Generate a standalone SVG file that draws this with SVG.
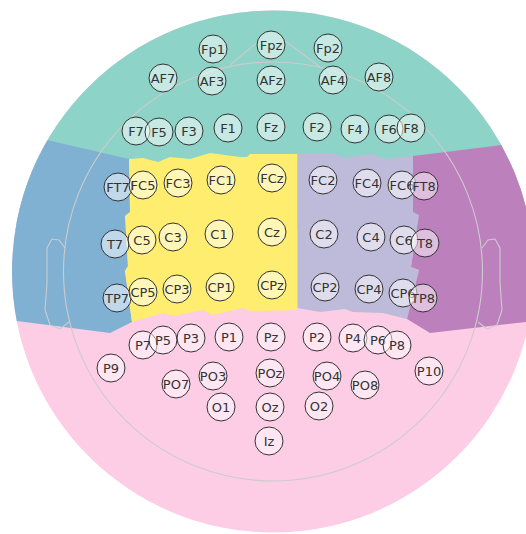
<svg xmlns="http://www.w3.org/2000/svg" width="526" height="534" viewBox="0 0 526 534">
<style>
.n circle{fill:#ffffff;fill-opacity:.5;stroke:#333;stroke-width:1}
.n text{font-family:"DejaVu Sans",sans-serif;font-size:13px;fill:#333;text-anchor:middle;dominant-baseline:central}
.head{fill:none;stroke:#cccccc;stroke-width:1.1}
</style>
<defs>
<clipPath id="clip"><circle cx="273" cy="271.5" r="261"/></clipPath>
</defs>
<rect width="526" height="534" fill="#ffffff"/>
<g id="regions" clip-path="url(#clip)">
<rect x="0" y="0" width="526" height="534" fill="#fccde5"/>
<polygon fill="#8dd3c7" points="0,0 526,0 526,230 0,230"/>
<polygon fill="#80b1d3" points="0,128 47,140 129,159 130,212 125,216 128,266 125,271 132,322 110,333 17,321 0,320"/>
<polygon fill="#ffed6f" points="129,159 143,158 158,162 170,157 190,159 210,153 240,157 247,157 250,154 297.5,154 297.5,310 250,311 243,308 212,315 203,310 173,316 163,313 132,322 125,271 128,266 125,216 130,212"/>
<polygon fill="#bebada" points="297.5,153 333,153 345,158 370,154 387,159 413,156 413,212 419,215 411,267 419,270 407,319 383,313 353,312 345,309 320,312 297.5,308"/>
<polygon fill="#bc80bd" points="413,156 502,145 526,140 526,322 430,333 407,319 419,270 411,267 419,215 413,212"/>
</g>
<g id="outline">
<circle class="head" cx="273" cy="271.5" r="209.5"/>
<polyline class="head" points="230,65 259,41"/>
<polyline class="head" points="284,40 320,67"/>
<polyline class="head" points="65,248 59,240 52,239 47,248 47,283 45,310 50,325 60,329 69,322"/>
<polyline class="head" points="482,248 488,240 495,239 500,248 500,283 502,310 497,325 487,329 478,322"/>
</g>
<g id="nodes">
<g class="n" id="Fp1"><circle cx="213" cy="49" r="14"/><text x="213" y="49">Fp1</text></g>
<g class="n" id="Fpz"><circle cx="271" cy="45" r="14"/><text x="271" y="45">Fpz</text></g>
<g class="n" id="Fp2"><circle cx="328" cy="48" r="14"/><text x="328" y="48">Fp2</text></g>
<g class="n" id="AF7"><circle cx="163" cy="78" r="14"/><text x="163" y="78">AF7</text></g>
<g class="n" id="AF3"><circle cx="212" cy="81" r="14"/><text x="212" y="81">AF3</text></g>
<g class="n" id="AFz"><circle cx="271" cy="80" r="14"/><text x="271" y="80">AFz</text></g>
<g class="n" id="AF4"><circle cx="333" cy="80" r="14"/><text x="333" y="80">AF4</text></g>
<g class="n" id="AF8"><circle cx="379" cy="77" r="14"/><text x="379" y="77">AF8</text></g>
<g class="n" id="F7"><circle cx="136" cy="131" r="14"/><text x="136" y="131">F7</text></g>
<g class="n" id="F5"><circle cx="159" cy="132" r="14"/><text x="159" y="132">F5</text></g>
<g class="n" id="F3"><circle cx="189" cy="131" r="14"/><text x="189" y="131">F3</text></g>
<g class="n" id="F1"><circle cx="228" cy="128" r="14"/><text x="228" y="128">F1</text></g>
<g class="n" id="Fz"><circle cx="271" cy="127" r="14"/><text x="271" y="127">Fz</text></g>
<g class="n" id="F2"><circle cx="317" cy="127" r="14"/><text x="317" y="127">F2</text></g>
<g class="n" id="F4"><circle cx="355" cy="129" r="14"/><text x="355" y="129">F4</text></g>
<g class="n" id="F6"><circle cx="389" cy="129" r="14"/><text x="389" y="129">F6</text></g>
<g class="n" id="F8"><circle cx="411" cy="128" r="14"/><text x="411" y="128">F8</text></g>
<g class="n" id="FT7"><circle cx="118" cy="187" r="14"/><text x="118" y="187">FT7</text></g>
<g class="n" id="T7"><circle cx="115" cy="244" r="14"/><text x="115" y="244">T7</text></g>
<g class="n" id="TP7"><circle cx="117" cy="298" r="14"/><text x="117" y="298">TP7</text></g>
<g class="n" id="FC5"><circle cx="143" cy="185" r="14"/><text x="143" y="185">FC5</text></g>
<g class="n" id="FC3"><circle cx="178" cy="183" r="14"/><text x="178" y="183">FC3</text></g>
<g class="n" id="FC1"><circle cx="221" cy="180" r="14"/><text x="221" y="180">FC1</text></g>
<g class="n" id="FCz"><circle cx="272" cy="178" r="14"/><text x="272" y="178">FCz</text></g>
<g class="n" id="C5"><circle cx="142" cy="240" r="14"/><text x="142" y="240">C5</text></g>
<g class="n" id="C3"><circle cx="173" cy="237" r="14"/><text x="173" y="237">C3</text></g>
<g class="n" id="C1"><circle cx="219" cy="234" r="14"/><text x="219" y="234">C1</text></g>
<g class="n" id="Cz"><circle cx="272" cy="232" r="14"/><text x="272" y="232">Cz</text></g>
<g class="n" id="CP5"><circle cx="143" cy="292" r="14"/><text x="143" y="292">CP5</text></g>
<g class="n" id="CP3"><circle cx="177" cy="289" r="14"/><text x="177" y="289">CP3</text></g>
<g class="n" id="CP1"><circle cx="220" cy="287" r="14"/><text x="220" y="287">CP1</text></g>
<g class="n" id="CPz"><circle cx="272" cy="285" r="14"/><text x="272" y="285">CPz</text></g>
<g class="n" id="FC2"><circle cx="323" cy="180" r="14"/><text x="323" y="180">FC2</text></g>
<g class="n" id="FC4"><circle cx="367" cy="183" r="14"/><text x="367" y="183">FC4</text></g>
<g class="n" id="FC6"><circle cx="402" cy="185" r="14"/><text x="402" y="185">FC6</text></g>
<g class="n" id="C2"><circle cx="324" cy="234" r="14"/><text x="324" y="234">C2</text></g>
<g class="n" id="C4"><circle cx="371" cy="237" r="14"/><text x="371" y="237">C4</text></g>
<g class="n" id="C6"><circle cx="404" cy="240" r="14"/><text x="404" y="240">C6</text></g>
<g class="n" id="CP2"><circle cx="325" cy="287" r="14"/><text x="325" y="287">CP2</text></g>
<g class="n" id="CP4"><circle cx="369" cy="289" r="14"/><text x="369" y="289">CP4</text></g>
<g class="n" id="CP6"><circle cx="403" cy="293" r="14"/><text x="403" y="293">CP6</text></g>
<g class="n" id="FT8"><circle cx="424" cy="186" r="14"/><text x="424" y="186">FT8</text></g>
<g class="n" id="T8"><circle cx="425" cy="243" r="14"/><text x="425" y="243">T8</text></g>
<g class="n" id="TP8"><circle cx="423" cy="298" r="14"/><text x="423" y="298">TP8</text></g>
<g class="n" id="P7"><circle cx="143" cy="345" r="14"/><text x="143" y="345">P7</text></g>
<g class="n" id="P5"><circle cx="163" cy="340" r="14"/><text x="163" y="340">P5</text></g>
<g class="n" id="P3"><circle cx="191" cy="338" r="14"/><text x="191" y="338">P3</text></g>
<g class="n" id="P1"><circle cx="229" cy="337" r="14"/><text x="229" y="337">P1</text></g>
<g class="n" id="Pz"><circle cx="271" cy="337" r="14"/><text x="271" y="337">Pz</text></g>
<g class="n" id="P2"><circle cx="317" cy="337" r="14"/><text x="317" y="337">P2</text></g>
<g class="n" id="P4"><circle cx="353" cy="338" r="14"/><text x="353" y="338">P4</text></g>
<g class="n" id="P6"><circle cx="378" cy="340" r="14"/><text x="378" y="340">P6</text></g>
<g class="n" id="P8"><circle cx="397" cy="345" r="14"/><text x="397" y="345">P8</text></g>
<g class="n" id="P9"><circle cx="111" cy="368" r="14"/><text x="111" y="368">P9</text></g>
<g class="n" id="P10"><circle cx="429" cy="371" r="14"/><text x="429" y="371">P10</text></g>
<g class="n" id="PO7"><circle cx="176" cy="384" r="14"/><text x="176" y="384">PO7</text></g>
<g class="n" id="PO3"><circle cx="213" cy="376" r="14"/><text x="213" y="376">PO3</text></g>
<g class="n" id="POz"><circle cx="270" cy="373" r="14"/><text x="270" y="373">POz</text></g>
<g class="n" id="PO4"><circle cx="327" cy="376" r="14"/><text x="327" y="376">PO4</text></g>
<g class="n" id="PO8"><circle cx="365" cy="385" r="14"/><text x="365" y="385">PO8</text></g>
<g class="n" id="O1"><circle cx="221" cy="407" r="14"/><text x="221" y="407">O1</text></g>
<g class="n" id="Oz"><circle cx="270" cy="407" r="14"/><text x="270" y="407">Oz</text></g>
<g class="n" id="O2"><circle cx="319" cy="406" r="14"/><text x="319" y="406">O2</text></g>
<g class="n" id="Iz"><circle cx="269" cy="441" r="14"/><text x="269" y="441">Iz</text></g>
</g>
</svg>
